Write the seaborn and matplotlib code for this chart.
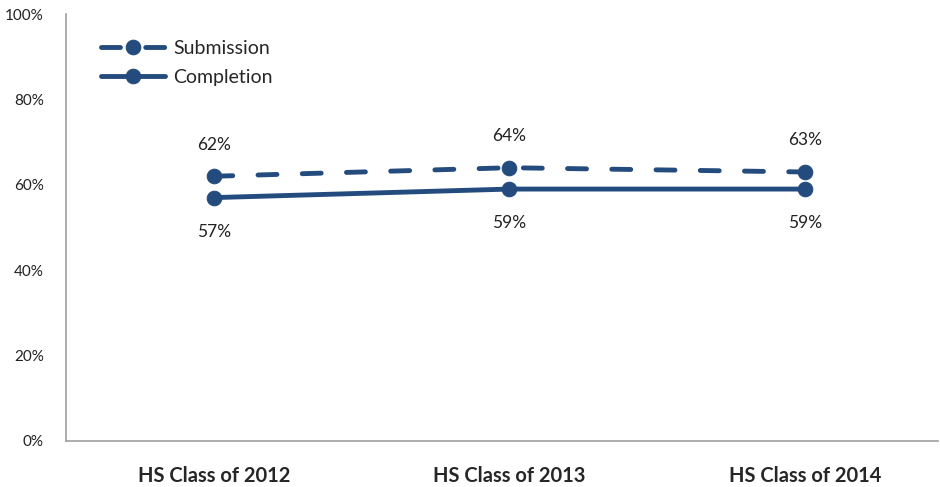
import matplotlib
matplotlib.use("Agg")
import matplotlib.pyplot as plt
import pandas as pd
import seaborn as sns
from matplotlib.ticker import PercentFormatter

# dados
classes = ["HS Class of 2012", "HS Class of 2013", "HS Class of 2014"]
submission = [62, 64, 63]
completion = [57, 59, 59]

df = pd.DataFrame({
    "classe": classes * 2,
    "valor": submission + completion,
    "serie": ["Submission"] * 3 + ["Completion"] * 3,
})

sns.set_style("white")
plt.rcParams["font.family"] = ["Lato", "DejaVu Sans"]

navy = "#244B7E"
fig = plt.figure(figsize=(9.4, 4.87), dpi=100)
ax = fig.add_axes([66 / 940, 46 / 487, 872 / 940, 427 / 487])

sns.lineplot(data=df, x="classe", y="valor", style="serie",
             dashes={"Submission": (3.9, 5.2), "Completion": ""},
             markers={"Submission": "o", "Completion": "o"},
             color=navy, linewidth=3.5, markersize=10.5, markeredgecolor=navy,
             dash_capstyle="round", solid_capstyle="round",
             ax=ax, style_order=["Submission", "Completion"], sort=False)

# rótulos de dados
for i, v in enumerate(submission):
    ax.text(i, v + 7.4, f"{v}%", ha="center", va="center", fontsize=12.5, color="#222222")
for i, v in enumerate(completion):
    ax.text(i, v - 8.0, f"{v}%", ha="center", va="center", fontsize=12.5, color="#222222")

ax.set_ylim(0, 100)
ax.set_xlim(-0.5, 2.45)
ax.set_yticks([0, 20, 40, 60, 80, 100])
ax.yaxis.set_major_formatter(PercentFormatter(decimals=0))
ax.tick_params(axis="y", labelsize=11, length=0, pad=16, labelcolor="#222222")
ax.tick_params(axis="x", labelsize=14.5, length=0, pad=18)
for lab in ax.get_xticklabels():
    lab.set_fontweight("bold")
ax.set_xlabel("")
ax.set_ylabel("")
sns.despine(ax=ax)
for s in ["left", "bottom"]:
    ax.spines[s].set_color("#A0A0A0")
    ax.spines[s].set_linewidth(1.2)

leg = ax.legend(loc="upper left", bbox_to_anchor=(0.02, 0.98), frameon=False,
                fontsize=14, handlelength=3.3, handletextpad=0.4, labelspacing=0.6)
leg.set_title(None)

fig.savefig("out.png", dpi=100)
